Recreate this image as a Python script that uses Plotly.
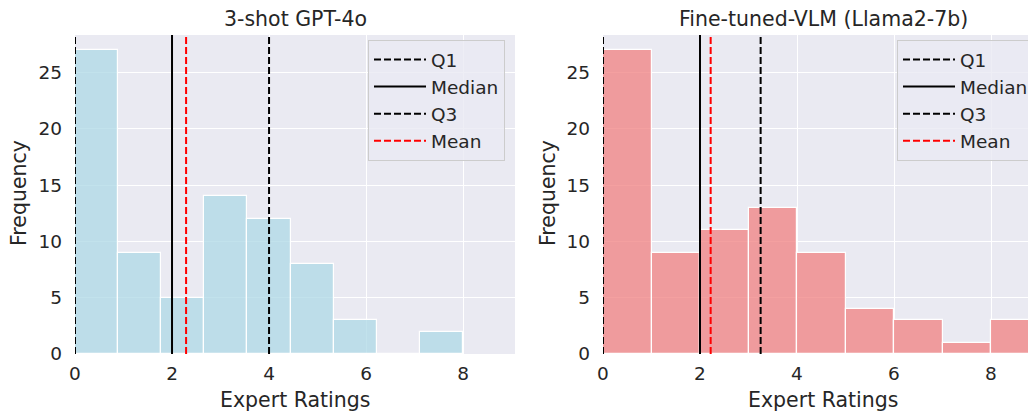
import numpy as np
import plotly.graph_objects as go

# ---------------- data ----------------
gpt_counts = [27, 9, 5, 14, 12, 8, 3, 0, 2]          # 9 bins over [0, 8]
gpt_bin_min, gpt_bin_max = 0, 8
gpt_stats = {"Q1": 0.0, "Median": 2.0, "Q3": 4.0, "Mean": 2.29}

vlm_counts = [27, 9, 11, 13, 9, 4, 3, 1, 3]          # 9 bins over [0, 9]
vlm_bin_min, vlm_bin_max = 0, 9
vlm_stats = {"Q1": 0.0, "Median": 2.0, "Q3": 3.25, "Mean": 2.22}

titles = ["3-shot GPT-4o", "Fine-tuned-VLM (Llama2-7b)"]
x_label = "Expert Ratings"
y_label = "Frequency"
x_ticks = [0, 2, 4, 6, 8]
y_ticks = [0, 5, 10, 15, 20, 25]

# ---------------- style ----------------
W, H = 1036, 415
OX, OY = 8, 8   # page offset of the plot div (body margin)
FONT = "DejaVu Sans"
TXT = "rgb(38,38,38)"
BG = "#EAEAF2"
colors = ["rgba(173,216,230,0.75)", "rgba(240,128,128,0.75)"]
ymax = 27 * 1.05

def px_x(p):
    return (p - OX) / W

def px_y(p):
    return (H - (p - OY)) / H

fig = go.Figure()

panels = [
    dict(counts=gpt_counts, lo=gpt_bin_min, hi=gpt_bin_max, stats=gpt_stats,
         xa="x", ya="y", legend="legend", dom=[px_x(75), px_x(515)], xr=[0, 9.07]),
    dict(counts=vlm_counts, lo=vlm_bin_min, hi=vlm_bin_max, stats=vlm_stats,
         xa="x2", ya="y2", legend="legend2", dom=[px_x(603), px_x(1036)],
         xr=[0, (1036 - 603) / 48.5]),
]

line_styles = {
    "Q1": dict(color="black", dash="7px,3px"),
    "Median": dict(color="black", dash="solid"),
    "Q3": dict(color="black", dash="7px,3px"),
    "Mean": dict(color="red", dash="7px,3px"),
}

for i, p in enumerate(panels):
    n = len(p["counts"])
    edges = np.linspace(p["lo"], p["hi"], n + 1)
    centers = (edges[:-1] + edges[1:]) / 2
    width = edges[1] - edges[0]
    fig.add_trace(go.Bar(
        x=centers, y=p["counts"], width=width,
        marker=dict(color=colors[i], line=dict(color="white", width=1.2)),
        showlegend=False, xaxis=p["xa"], yaxis=p["ya"],
    ))
    for name, v in p["stats"].items():
        st = line_styles[name]
        fig.add_trace(go.Scatter(
            x=[v, v], y=[0, ymax], mode="lines", name=name,
            line=dict(color=st["color"], dash=st["dash"], width=2),
            xaxis=p["xa"], yaxis=p["ya"], legend=p["legend"],
            legendgroup=f"{i}{name}",
        ))

axis_common = dict(
    showgrid=True, gridcolor="white", gridwidth=1.3, zeroline=False,
    showline=False, ticks="", automargin=False,
    tickfont=dict(family=FONT, size=18.5, color=TXT),
)
ydom = [px_y(354), px_y(35)]

leg_common = dict(xanchor="left", yanchor="top",
                  bgcolor="rgba(234,234,242,0.8)", bordercolor="#cccccc", borderwidth=1,
                  font=dict(family=FONT, size=18.5, color=TXT), itemwidth=52,
                  tracegroupgap=0, traceorder="grouped")

fig.update_layout(
    width=W, height=H,
    margin=dict(l=0, r=0, t=0, b=0, pad=0, autoexpand=False),
    paper_bgcolor="white", plot_bgcolor=BG,
    bargap=0, barmode="overlay",
    font=dict(family=FONT, color=TXT),
    xaxis=dict(domain=panels[0]["dom"], range=panels[0]["xr"], tickvals=x_ticks,
               anchor="y", ticklabelstandoff=6, **axis_common),
    yaxis=dict(domain=ydom, range=[0, ymax], tickvals=y_ticks, anchor="x",
               ticklabelstandoff=12, **axis_common),
    xaxis2=dict(domain=panels[1]["dom"], range=panels[1]["xr"], tickvals=x_ticks,
                anchor="y2", ticklabelstandoff=6, **axis_common),
    yaxis2=dict(domain=ydom, range=[0, ymax], tickvals=y_ticks, anchor="x2",
                ticklabelstandoff=12, **axis_common),
    legend=dict(x=px_x(368), y=px_y(40), **leg_common),
    legend2=dict(x=px_x(897), y=px_y(40), **leg_common),
)

centers_px = [295, 823]
ylab_px = [19, 548]
for i in range(2):
    fig.add_annotation(text=titles[i], x=px_x(centers_px[i]), y=px_y(19),
                       xref="paper", yref="paper", showarrow=False,
                       xanchor="center", yanchor="middle",
                       font=dict(family=FONT, size=20.5, color=TXT))
    fig.add_annotation(text=x_label, x=px_x(centers_px[i]), y=px_y(400),
                       xref="paper", yref="paper", showarrow=False,
                       xanchor="center", yanchor="middle",
                       font=dict(family=FONT, size=20.5, color=TXT))
    fig.add_annotation(text=y_label, x=px_x(ylab_px[i]), y=px_y(193),
                       xref="paper", yref="paper", showarrow=False, textangle=-90,
                       xanchor="center", yanchor="middle",
                       font=dict(family=FONT, size=20.5, color=TXT))

fig.write_html("out.html")
